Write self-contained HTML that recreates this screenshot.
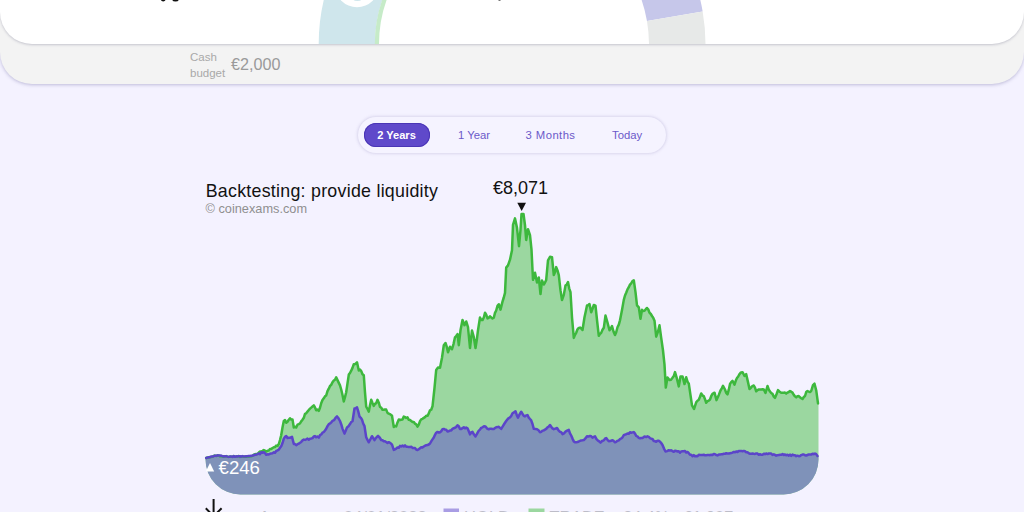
<!DOCTYPE html>
<html><head><meta charset="utf-8">
<style>
html,body{margin:0;padding:0;background:#f4f2ff;overflow:hidden;}
#root{position:relative;width:1024px;height:512px;overflow:hidden;background:#f4f2ff;}
body{width:1024px;height:512px;overflow:hidden;background:#f4f2ff;font-family:"Liberation Sans",sans-serif;position:relative;}
.gray{position:absolute;left:0;top:-40px;width:1024px;height:124.2px;background:#f3f3f3;border-radius:0 0 32px 32px;box-shadow:0 1px 3.5px rgba(95,90,150,.36);}
.white{position:absolute;left:0;top:-40px;width:1024px;height:83.9px;background:#fff;border-radius:0 0 32px 32px;box-shadow:0 1px 2.5px rgba(90,90,120,.30);overflow:hidden;}
.cash{position:absolute;left:190px;top:48.6px;font-size:11.5px;line-height:16.6px;color:#a9a9a9;}
.amt{position:absolute;left:231px;top:54px;font-size:16.2px;line-height:20px;color:#9a9a9a;}
.tabs{position:absolute;left:357.5px;top:116.5px;width:308.5px;height:36px;border-radius:18px;background:#f5f3ff;box-shadow:0 0 3.5px rgba(80,70,140,.28);}
.pill{position:absolute;left:364px;top:122.5px;width:66px;height:24px;border-radius:12px;background:#5f49ca;box-shadow:inset 0 0 0 1px #4a35b5;}
.t{position:absolute;top:127.6px;font-size:11.3px;line-height:14px;color:#6b59c9;white-space:nowrap;}
.title{position:absolute;left:205.7px;top:180.6px;letter-spacing:0.27px;font-size:17.8px;line-height:21px;color:#111;white-space:nowrap;}
.copy{position:absolute;left:205.5px;top:202px;font-size:12.75px;line-height:14px;color:#8f8f8f;white-space:nowrap;}
.peak{position:absolute;left:493px;top:178.2px;font-size:18px;line-height:21px;color:#111;white-space:nowrap;}
.low{position:absolute;left:218.6px;top:456.6px;font-size:18.6px;line-height:21px;color:#fff;white-space:nowrap;}
.lg{position:absolute;top:508px;font-size:16.6px;line-height:20px;color:#bdbdc8;white-space:nowrap;}
svg{position:absolute;left:0;top:0;}
</style></head><body>
<div id="root">
<div class="gray"></div>
<div class="white"></div>
<svg width="1024" height="512" viewBox="0 0 1024 512">
 <defs><clipPath id="cw"><rect x="0" y="0" width="1024" height="44"/></clipPath></defs>
 <g clip-path="url(#cw)">
  <path d="M344.60,-52.15 A193.3,193.3 0 0 0 318.73,47.87 L375.02,46.89 A137,137 0 0 1 393.35,-24.00 Z" fill="#cfe6ec"/>
  <path d="M393.18,-24.10 A137.2,137.2 0 0 0 374.82,46.89 L379.02,46.82 A133,133 0 0 1 396.82,-22.00 Z" fill="#c6ebc8"/>
  <path d="M702.65,11.40 A193.5,193.5 0 0 0 660.23,-79.88 L616.95,-43.56 A137,137 0 0 1 646.98,21.06 Z" fill="#c6c7ea"/>
  <path d="M705.47,47.88 A193.5,193.5 0 0 0 702.65,11.40 L646.98,21.06 A137,137 0 0 1 648.98,46.89 Z" fill="#e7e9e8"/>
  <circle cx="357" cy="-15" r="22.2" fill="#fff"/>
  <ellipse cx="357.4" cy="-0.6" rx="4" ry="1.6" fill="#cfe6ec"/>
  <ellipse cx="163.2" cy="-0.9" rx="2.4" ry="2.3" fill="#111"/>
  <rect x="498.5" y="-1" width="2" height="1.8" fill="#555"/>
  <ellipse cx="175.5" cy="-1.1" rx="3.4" ry="2.7" fill="#111"/>
 </g>
 <path d="M205.5,458.0 L206.2,458.0 L207.5,457.4 L208.8,457.5 L210.0,457.0 L211.2,457.0 L212.5,456.7 L213.8,455.9 L215.0,455.5 L216.2,456.1 L217.5,455.4 L218.8,455.4 L220.0,456.4 L221.2,456.0 L222.5,456.5 L223.8,456.3 L225.0,456.6 L226.2,456.1 L227.5,456.6 L228.8,456.9 L230.0,456.5 L231.2,456.8 L232.5,456.7 L233.8,456.0 L235.0,456.8 L236.2,456.6 L237.5,456.4 L238.8,456.0 L240.0,456.9 L241.2,456.4 L242.5,456.6 L243.8,456.8 L245.0,456.6 L246.2,456.8 L247.5,456.2 L248.8,456.6 L250.0,456.2 L251.2,456.3 L252.5,455.8 L253.8,454.6 L255.0,454.2 L256.2,453.9 L257.5,454.0 L258.8,452.5 L260.0,451.6 L261.2,451.6 L262.5,450.9 L263.8,450.1 L265.0,450.7 L266.2,451.6 L267.5,450.8 L268.8,450.6 L270.0,448.9 L271.2,449.1 L272.5,448.0 L273.8,447.3 L275.0,447.1 L276.2,445.6 L277.5,445.9 L278.8,444.1 L280.0,440.0 L281.2,435.3 L282.5,427.5 L283.8,421.0 L285.0,420.1 L286.2,422.8 L287.5,421.7 L288.8,419.7 L290.0,418.3 L291.2,419.5 L292.5,419.4 L293.8,427.5 L295.0,426.8 L296.2,427.5 L297.5,424.7 L298.8,424.2 L300.0,423.3 L301.2,421.4 L302.5,419.8 L303.8,417.8 L305.0,413.8 L306.2,413.3 L307.5,411.6 L308.8,410.0 L310.0,408.6 L311.2,407.6 L312.5,406.5 L313.8,405.4 L315.0,407.4 L316.2,410.3 L317.5,409.6 L318.8,410.8 L320.0,407.8 L321.2,403.3 L322.5,400.0 L323.8,398.3 L325.0,396.3 L326.2,395.5 L327.5,391.2 L328.8,388.7 L330.0,386.0 L331.2,384.9 L332.5,382.3 L333.8,380.5 L335.0,379.7 L336.2,377.3 L337.5,380.1 L338.8,382.9 L340.0,385.4 L341.2,389.5 L342.5,395.0 L343.8,401.5 L345.0,397.1 L346.2,392.2 L347.5,383.4 L348.8,374.6 L350.0,373.0 L351.2,370.7 L352.5,367.9 L353.8,364.2 L355.4,363.9 L357.0,362.3 L358.8,370.5 L360.0,369.6 L361.2,371.0 L362.5,374.2 L363.8,375.3 L365.0,392.4 L366.2,406.7 L367.5,409.0 L368.8,411.6 L370.0,405.2 L371.2,399.7 L372.5,403.0 L373.8,405.9 L375.0,403.9 L376.2,403.1 L377.5,399.8 L378.8,402.7 L380.0,407.0 L381.2,407.6 L382.5,409.8 L383.8,409.8 L385.0,409.5 L386.2,409.6 L387.5,412.9 L388.8,413.7 L390.4,414.4 L392.0,415.8 L393.8,427.0 L395.0,426.1 L396.2,426.4 L397.5,422.4 L398.8,419.5 L400.0,420.0 L401.2,419.7 L402.5,419.6 L403.8,416.6 L405.0,417.2 L406.2,417.9 L407.5,417.4 L408.8,419.8 L410.0,420.0 L411.2,421.0 L412.5,421.9 L413.8,421.9 L415.0,423.7 L416.2,424.4 L417.5,426.7 L418.8,424.5 L420.0,421.2 L421.2,419.3 L422.5,418.8 L423.8,417.9 L425.0,417.2 L426.2,415.7 L427.5,415.8 L428.8,413.4 L430.0,410.3 L431.2,409.7 L432.5,406.3 L434.5,388.0 L436.2,369.9 L438.0,367.4 L440.0,367.7 L442.0,357.8 L443.8,345.3 L445.5,343.0 L446.8,346.9 L448.0,352.2 L450.0,346.7 L452.0,349.2 L453.5,344.1 L455.0,337.3 L456.2,336.0 L457.5,334.1 L458.8,345.2 L460.5,330.3 L462.5,320.0 L464.5,325.2 L466.2,321.5 L468.0,327.2 L470.0,348.0 L472.0,330.5 L473.8,337.0 L475.5,348.0 L476.8,339.8 L478.0,330.2 L480.0,317.5 L481.2,320.1 L482.5,320.1 L483.8,317.5 L485.0,312.7 L486.2,314.7 L487.5,318.4 L488.8,317.8 L490.0,316.3 L491.2,317.4 L492.5,318.4 L493.8,317.7 L495.0,312.9 L496.2,310.5 L497.5,305.8 L498.8,304.2 L500.5,309.6 L502.5,301.6 L503.8,297.5 L505.0,292.9 L506.2,267.6 L508.0,265.4 L510.0,259.7 L512.0,250.2 L513.0,224.8 L515.0,218.4 L517.0,227.8 L519.0,246.2 L520.5,230.0 L521.5,214.0 L523.5,214.0 L525.0,225.1 L526.2,240.0 L528.0,229.2 L530.0,235.1 L531.5,249.6 L533.0,279.8 L535.0,272.8 L537.0,282.5 L538.8,277.5 L540.5,294.1 L542.0,280.4 L543.8,284.5 L545.0,282.6 L546.2,279.9 L548.0,260.3 L550.0,256.8 L552.0,257.2 L553.8,275.0 L555.0,272.3 L556.2,267.1 L557.5,270.4 L558.8,275.1 L560.5,290.4 L562.0,300.0 L563.8,294.9 L565.5,285.4 L566.8,284.4 L568.0,282.0 L569.2,288.3 L570.5,292.2 L572.0,317.3 L573.8,337.9 L575.0,334.8 L576.2,332.8 L577.5,329.3 L578.8,327.9 L580.0,327.6 L581.2,328.4 L582.5,330.0 L584.5,317.3 L585.8,311.3 L587.0,305.4 L588.2,305.2 L589.5,304.0 L591.2,312.3 L592.5,308.8 L593.8,305.0 L595.5,305.7 L597.0,320.0 L598.8,335.8 L600.0,333.8 L601.2,332.9 L602.5,329.7 L603.8,327.8 L605.5,315.5 L607.5,322.6 L609.5,330.2 L610.8,328.4 L612.0,326.0 L613.5,331.5 L615.0,335.0 L616.2,332.2 L617.5,327.3 L618.8,324.6 L620.0,320.3 L622.0,310.1 L623.8,299.9 L625.0,295.5 L626.2,292.8 L627.5,289.4 L628.8,287.2 L630.0,284.6 L631.2,283.3 L632.5,281.1 L633.8,280.3 L635.5,292.1 L637.0,305.4 L638.8,307.4 L640.5,318.8 L642.0,309.8 L643.2,310.9 L644.5,310.8 L645.8,309.2 L647.0,308.0 L648.2,309.3 L649.5,312.7 L650.8,314.0 L652.0,316.0 L653.2,317.7 L654.5,320.7 L656.2,336.7 L658.0,331.6 L659.5,325.3 L661.2,337.8 L663.0,350.5 L664.5,364.6 L665.8,387.6 L667.5,377.5 L669.5,380.1 L671.0,379.7 L672.5,377.8 L673.8,376.0 L675.0,372.1 L677.0,378.9 L678.8,386.4 L680.5,376.5 L682.5,376.4 L684.5,384.1 L686.2,377.3 L687.5,381.6 L688.8,383.6 L690.5,395.1 L692.0,405.4 L694.0,409.0 L696.2,402.3 L697.5,400.7 L698.8,399.8 L700.0,396.8 L701.2,393.5 L702.5,395.5 L703.8,396.1 L705.0,399.2 L706.2,402.8 L707.5,401.2 L708.8,400.6 L710.0,399.5 L711.2,396.2 L712.5,393.8 L714.5,392.7 L716.5,400.1 L718.8,394.9 L720.5,390.5 L721.8,388.4 L723.0,385.9 L725.0,389.5 L726.2,392.9 L727.5,394.3 L728.8,389.7 L730.0,383.9 L731.2,382.1 L732.5,380.8 L734.5,384.7 L735.8,380.6 L737.0,378.0 L738.2,376.5 L739.5,374.1 L741.0,372.4 L742.5,372.2 L744.5,376.0 L746.2,374.2 L748.0,382.1 L749.5,389.1 L750.8,387.9 L752.0,386.3 L753.8,385.5 L755.0,387.6 L756.2,391.3 L757.5,390.1 L758.8,389.5 L760.0,389.5 L761.2,389.6 L762.5,389.2 L763.8,389.5 L765.5,393.0 L767.5,386.0 L768.8,389.6 L770.0,391.5 L771.2,393.0 L772.5,393.9 L773.8,396.6 L775.0,397.9 L776.5,394.2 L778.0,390.1 L779.6,391.7 L781.2,392.7 L782.5,392.8 L783.8,392.8 L785.0,392.6 L786.2,393.6 L787.5,392.6 L788.8,392.0 L790.0,391.1 L791.2,391.7 L792.5,392.6 L793.8,394.9 L795.0,396.4 L796.2,397.4 L797.5,396.2 L798.8,396.1 L800.0,397.3 L801.2,398.2 L802.5,399.0 L803.8,397.0 L805.0,396.0 L806.2,392.1 L807.5,391.1 L808.8,391.6 L810.0,392.0 L811.2,391.0 L813.0,385.1 L814.5,383.7 L816.2,390.2 L818.0,403.4 L818.5,403.4 L818.5,459.5 A35,35 0 0 1 783.5,494.5 L240.5,494.5 A35,35 0 0 1 205.5,459.5 Z" fill="#9bd7a0"/>
 <path d="M205.5,458.0 L206.2,458.0 L207.5,457.6 L208.8,457.2 L210.0,457.3 L211.2,456.5 L212.5,456.6 L213.8,456.2 L215.0,455.7 L216.2,455.8 L217.5,455.3 L218.8,455.6 L220.0,455.5 L221.2,455.7 L222.5,456.1 L223.8,456.6 L225.0,456.3 L226.2,456.3 L227.5,456.6 L228.8,456.9 L230.0,456.6 L231.2,456.4 L232.5,456.9 L233.8,456.1 L235.0,456.8 L236.2,456.3 L237.5,456.4 L238.8,456.2 L240.0,456.3 L241.2,456.7 L242.5,456.1 L243.8,456.4 L245.0,456.5 L246.2,456.2 L247.5,456.3 L248.8,455.9 L250.0,456.1 L251.2,455.7 L252.5,455.7 L253.8,455.2 L255.0,454.8 L256.2,454.7 L257.5,454.2 L258.8,453.4 L260.0,454.1 L261.2,452.3 L262.5,452.7 L263.8,452.3 L265.0,453.1 L266.2,454.8 L267.5,454.3 L268.8,454.4 L270.0,453.8 L271.2,453.4 L272.5,453.2 L273.8,452.3 L275.0,452.8 L276.2,451.0 L277.5,450.4 L278.8,449.6 L280.0,447.8 L281.2,446.2 L282.5,443.1 L283.8,438.7 L285.0,436.9 L286.2,436.1 L287.5,437.9 L288.8,437.7 L290.4,437.7 L292.0,436.9 L293.8,443.9 L295.0,444.1 L296.2,445.2 L297.5,444.2 L298.8,443.6 L300.0,442.8 L301.2,441.9 L302.5,440.4 L303.8,439.6 L305.0,439.9 L306.2,439.3 L307.5,438.6 L308.8,439.7 L310.0,438.8 L311.2,438.5 L312.5,438.1 L313.8,436.5 L315.0,436.1 L316.2,437.3 L317.5,436.5 L318.8,437.7 L320.0,435.2 L321.2,434.5 L322.5,432.7 L323.8,432.0 L325.0,430.5 L326.2,428.8 L327.5,426.1 L328.8,424.2 L330.0,423.5 L331.2,422.3 L332.5,420.9 L334.0,420.2 L335.5,417.9 L337.0,416.4 L338.5,418.3 L340.0,421.0 L341.2,424.2 L342.5,428.6 L344.5,433.6 L345.8,430.5 L347.0,427.4 L348.5,426.2 L350.0,424.1 L351.2,422.0 L352.5,421.2 L354.5,408.5 L355.8,408.1 L357.0,407.4 L358.2,411.1 L359.5,416.5 L360.8,417.8 L362.0,419.6 L363.2,423.5 L364.5,426.1 L366.2,437.2 L367.5,439.9 L368.8,442.3 L370.4,439.2 L372.0,436.2 L373.2,438.0 L374.5,440.1 L375.7,438.4 L376.8,436.9 L378.0,435.9 L379.6,437.5 L381.2,440.0 L382.5,440.2 L383.8,441.3 L385.0,441.3 L386.2,442.0 L387.5,442.9 L388.8,442.2 L390.4,443.0 L392.0,444.7 L393.8,449.9 L395.0,449.3 L396.2,448.7 L397.5,447.4 L398.8,447.8 L400.0,445.9 L401.2,446.5 L402.5,445.6 L403.8,446.5 L405.0,445.4 L406.2,446.8 L407.5,446.8 L408.8,447.1 L410.0,447.1 L411.2,446.7 L412.5,447.9 L413.8,448.0 L415.0,448.1 L416.2,449.5 L417.5,450.0 L418.8,449.2 L420.0,448.2 L421.2,447.3 L422.5,447.4 L423.8,446.5 L425.0,445.7 L426.2,445.3 L427.5,445.1 L428.8,444.5 L430.0,443.5 L431.2,441.4 L432.5,439.4 L433.8,437.5 L435.0,434.8 L436.2,432.7 L437.5,431.9 L438.8,432.6 L440.0,432.2 L441.2,431.2 L442.5,429.2 L443.8,428.9 L445.0,429.6 L446.2,429.7 L447.5,431.4 L448.8,431.2 L450.0,430.5 L451.2,430.4 L452.5,428.9 L453.8,428.2 L455.0,427.8 L456.2,426.9 L457.5,425.4 L458.8,426.3 L460.0,429.1 L461.2,429.0 L462.5,428.1 L463.8,427.3 L465.0,428.3 L466.2,427.6 L467.5,428.3 L468.8,431.3 L470.0,434.4 L471.2,432.5 L472.5,431.9 L474.0,434.6 L475.5,436.5 L477.1,433.6 L478.8,430.6 L480.0,429.6 L481.2,427.8 L482.5,427.3 L484.0,426.3 L485.5,426.4 L487.1,428.5 L488.8,429.3 L490.0,428.7 L491.2,428.7 L492.5,429.1 L493.8,428.9 L495.0,428.0 L496.2,427.3 L497.5,427.1 L498.8,426.8 L500.0,427.9 L501.2,428.9 L502.9,426.1 L504.5,423.5 L506.0,421.3 L507.5,419.3 L508.8,418.0 L510.0,417.4 L511.2,416.0 L512.5,413.3 L514.0,412.4 L515.5,411.2 L516.8,415.2 L518.0,417.6 L519.6,414.3 L521.2,411.7 L522.5,413.8 L523.8,415.8 L525.0,416.4 L526.2,415.4 L527.5,415.1 L528.8,417.7 L530.0,419.0 L531.2,420.4 L532.5,424.0 L533.8,428.8 L535.4,428.9 L537.0,429.3 L538.5,430.3 L540.0,432.2 L541.2,431.9 L542.5,430.7 L543.8,430.4 L545.0,429.6 L546.2,428.9 L547.5,427.3 L548.8,426.6 L550.0,425.0 L551.2,426.8 L552.5,428.4 L553.8,429.2 L555.4,428.6 L557.0,428.0 L558.5,430.3 L560.0,431.8 L561.2,432.1 L562.5,434.1 L564.0,433.3 L565.5,431.6 L567.1,430.6 L568.8,429.9 L570.0,433.4 L571.2,435.5 L572.5,438.6 L573.8,441.4 L575.0,442.3 L576.2,442.3 L577.5,442.0 L578.8,441.5 L580.0,440.9 L581.2,440.4 L582.5,440.3 L583.8,440.1 L585.4,438.4 L587.0,436.2 L588.5,436.6 L590.0,435.9 L591.2,436.3 L592.5,437.6 L593.8,436.9 L595.0,436.4 L596.5,439.2 L598.0,440.7 L599.2,441.4 L600.5,442.6 L602.1,441.0 L603.8,440.4 L605.0,438.7 L606.2,438.1 L607.5,439.8 L608.8,441.2 L610.4,441.1 L612.0,440.3 L613.5,440.8 L615.0,442.3 L616.2,441.8 L617.5,440.8 L618.8,440.3 L620.0,439.1 L621.2,438.5 L622.5,437.3 L623.8,435.2 L625.0,434.6 L626.2,434.2 L627.5,433.5 L628.8,433.8 L630.0,432.2 L631.2,432.8 L632.5,432.4 L633.8,432.1 L635.0,433.6 L636.2,435.8 L637.5,436.5 L638.8,437.8 L640.0,438.3 L641.2,438.0 L642.5,438.1 L643.8,437.0 L645.0,436.5 L646.2,437.1 L647.5,436.3 L648.8,436.8 L650.0,438.2 L651.2,438.7 L652.5,439.0 L653.8,441.0 L655.0,441.2 L656.2,441.8 L657.5,440.8 L658.8,440.8 L660.0,441.7 L661.2,443.0 L662.5,445.0 L664.0,448.6 L665.5,451.5 L667.1,451.1 L668.8,450.2 L670.0,450.6 L671.2,450.3 L672.5,451.1 L673.8,451.8 L675.0,450.7 L676.2,450.9 L677.5,451.5 L678.8,451.3 L680.0,452.7 L681.2,451.4 L682.5,451.2 L683.8,451.3 L685.0,450.9 L686.2,452.5 L687.5,451.9 L688.8,453.2 L690.0,454.7 L691.2,454.7 L692.5,456.2 L693.8,455.1 L695.0,456.3 L696.2,456.1 L697.5,456.2 L698.8,454.7 L700.0,454.9 L701.2,455.0 L702.5,455.0 L703.8,454.7 L705.0,455.3 L706.2,455.2 L707.5,455.0 L708.8,454.9 L710.0,455.2 L711.2,454.7 L712.5,455.0 L713.8,453.9 L715.0,454.2 L716.2,455.0 L717.5,455.4 L718.8,454.6 L720.0,454.6 L721.2,454.3 L722.5,454.2 L723.8,453.8 L725.0,453.8 L726.2,453.2 L727.5,453.6 L728.8,453.6 L730.0,453.2 L731.2,453.1 L732.5,452.6 L733.8,451.9 L735.0,452.3 L736.2,451.4 L737.5,452.0 L738.8,451.0 L740.0,450.9 L741.2,450.9 L742.5,451.2 L743.8,450.9 L745.0,451.3 L746.2,452.3 L747.5,452.3 L748.8,453.3 L750.0,453.7 L751.2,453.7 L752.5,453.6 L753.8,453.8 L755.0,453.9 L756.2,453.4 L757.5,453.6 L758.8,454.8 L760.0,454.2 L761.2,454.8 L762.5,454.7 L763.8,453.7 L765.0,454.2 L766.2,453.5 L767.5,454.1 L768.8,453.5 L770.0,453.6 L771.2,453.6 L772.5,454.9 L773.8,454.3 L775.0,454.9 L776.2,455.7 L777.5,455.2 L778.8,455.1 L780.0,454.8 L781.2,454.8 L782.5,454.1 L783.8,455.1 L785.0,454.4 L786.2,455.3 L787.5,454.7 L788.8,455.6 L790.0,454.6 L791.2,455.9 L792.5,454.5 L793.8,455.3 L795.0,455.3 L796.2,456.2 L797.5,455.7 L798.8,456.2 L800.0,456.0 L801.2,455.1 L802.5,454.6 L803.8,454.5 L805.0,455.2 L806.2,455.6 L807.5,455.0 L808.8,454.4 L810.0,454.6 L811.2,454.6 L812.5,453.7 L813.8,454.2 L815.0,453.5 L816.2,454.2 L817.5,455.9 L818.5,455.9 L818.5,459.5 A35,35 0 0 1 783.5,494.5 L240.5,494.5 A35,35 0 0 1 205.5,459.5 Z" fill="#7f92b9"/>
 <path d="M206.2,458.0 L207.5,457.4 L208.8,457.5 L210.0,457.0 L211.2,457.0 L212.5,456.7 L213.8,455.9 L215.0,455.5 L216.2,456.1 L217.5,455.4 L218.8,455.4 L220.0,456.4 L221.2,456.0 L222.5,456.5 L223.8,456.3 L225.0,456.6 L226.2,456.1 L227.5,456.6 L228.8,456.9 L230.0,456.5 L231.2,456.8 L232.5,456.7 L233.8,456.0 L235.0,456.8 L236.2,456.6 L237.5,456.4 L238.8,456.0 L240.0,456.9 L241.2,456.4 L242.5,456.6 L243.8,456.8 L245.0,456.6 L246.2,456.8 L247.5,456.2 L248.8,456.6 L250.0,456.2 L251.2,456.3 L252.5,455.8 L253.8,454.6 L255.0,454.2 L256.2,453.9 L257.5,454.0 L258.8,452.5 L260.0,451.6 L261.2,451.6 L262.5,450.9 L263.8,450.1 L265.0,450.7 L266.2,451.6 L267.5,450.8 L268.8,450.6 L270.0,448.9 L271.2,449.1 L272.5,448.0 L273.8,447.3 L275.0,447.1 L276.2,445.6 L277.5,445.9 L278.8,444.1 L280.0,440.0 L281.2,435.3 L282.5,427.5 L283.8,421.0 L285.0,420.1 L286.2,422.8 L287.5,421.7 L288.8,419.7 L290.0,418.3 L291.2,419.5 L292.5,419.4 L293.8,427.5 L295.0,426.8 L296.2,427.5 L297.5,424.7 L298.8,424.2 L300.0,423.3 L301.2,421.4 L302.5,419.8 L303.8,417.8 L305.0,413.8 L306.2,413.3 L307.5,411.6 L308.8,410.0 L310.0,408.6 L311.2,407.6 L312.5,406.5 L313.8,405.4 L315.0,407.4 L316.2,410.3 L317.5,409.6 L318.8,410.8 L320.0,407.8 L321.2,403.3 L322.5,400.0 L323.8,398.3 L325.0,396.3 L326.2,395.5 L327.5,391.2 L328.8,388.7 L330.0,386.0 L331.2,384.9 L332.5,382.3 L333.8,380.5 L335.0,379.7 L336.2,377.3 L337.5,380.1 L338.8,382.9 L340.0,385.4 L341.2,389.5 L342.5,395.0 L343.8,401.5 L345.0,397.1 L346.2,392.2 L347.5,383.4 L348.8,374.6 L350.0,373.0 L351.2,370.7 L352.5,367.9 L353.8,364.2 L355.4,363.9 L357.0,362.3 L358.8,370.5 L360.0,369.6 L361.2,371.0 L362.5,374.2 L363.8,375.3 L365.0,392.4 L366.2,406.7 L367.5,409.0 L368.8,411.6 L370.0,405.2 L371.2,399.7 L372.5,403.0 L373.8,405.9 L375.0,403.9 L376.2,403.1 L377.5,399.8 L378.8,402.7 L380.0,407.0 L381.2,407.6 L382.5,409.8 L383.8,409.8 L385.0,409.5 L386.2,409.6 L387.5,412.9 L388.8,413.7 L390.4,414.4 L392.0,415.8 L393.8,427.0 L395.0,426.1 L396.2,426.4 L397.5,422.4 L398.8,419.5 L400.0,420.0 L401.2,419.7 L402.5,419.6 L403.8,416.6 L405.0,417.2 L406.2,417.9 L407.5,417.4 L408.8,419.8 L410.0,420.0 L411.2,421.0 L412.5,421.9 L413.8,421.9 L415.0,423.7 L416.2,424.4 L417.5,426.7 L418.8,424.5 L420.0,421.2 L421.2,419.3 L422.5,418.8 L423.8,417.9 L425.0,417.2 L426.2,415.7 L427.5,415.8 L428.8,413.4 L430.0,410.3 L431.2,409.7 L432.5,406.3 L434.5,388.0 L436.2,369.9 L438.0,367.4 L440.0,367.7 L442.0,357.8 L443.8,345.3 L445.5,343.0 L446.8,346.9 L448.0,352.2 L450.0,346.7 L452.0,349.2 L453.5,344.1 L455.0,337.3 L456.2,336.0 L457.5,334.1 L458.8,345.2 L460.5,330.3 L462.5,320.0 L464.5,325.2 L466.2,321.5 L468.0,327.2 L470.0,348.0 L472.0,330.5 L473.8,337.0 L475.5,348.0 L476.8,339.8 L478.0,330.2 L480.0,317.5 L481.2,320.1 L482.5,320.1 L483.8,317.5 L485.0,312.7 L486.2,314.7 L487.5,318.4 L488.8,317.8 L490.0,316.3 L491.2,317.4 L492.5,318.4 L493.8,317.7 L495.0,312.9 L496.2,310.5 L497.5,305.8 L498.8,304.2 L500.5,309.6 L502.5,301.6 L503.8,297.5 L505.0,292.9 L506.2,267.6 L508.0,265.4 L510.0,259.7 L512.0,250.2 L513.0,224.8 L515.0,218.4 L517.0,227.8 L519.0,246.2 L520.5,230.0 L521.5,214.0 L523.5,214.0 L525.0,225.1 L526.2,240.0 L528.0,229.2 L530.0,235.1 L531.5,249.6 L533.0,279.8 L535.0,272.8 L537.0,282.5 L538.8,277.5 L540.5,294.1 L542.0,280.4 L543.8,284.5 L545.0,282.6 L546.2,279.9 L548.0,260.3 L550.0,256.8 L552.0,257.2 L553.8,275.0 L555.0,272.3 L556.2,267.1 L557.5,270.4 L558.8,275.1 L560.5,290.4 L562.0,300.0 L563.8,294.9 L565.5,285.4 L566.8,284.4 L568.0,282.0 L569.2,288.3 L570.5,292.2 L572.0,317.3 L573.8,337.9 L575.0,334.8 L576.2,332.8 L577.5,329.3 L578.8,327.9 L580.0,327.6 L581.2,328.4 L582.5,330.0 L584.5,317.3 L585.8,311.3 L587.0,305.4 L588.2,305.2 L589.5,304.0 L591.2,312.3 L592.5,308.8 L593.8,305.0 L595.5,305.7 L597.0,320.0 L598.8,335.8 L600.0,333.8 L601.2,332.9 L602.5,329.7 L603.8,327.8 L605.5,315.5 L607.5,322.6 L609.5,330.2 L610.8,328.4 L612.0,326.0 L613.5,331.5 L615.0,335.0 L616.2,332.2 L617.5,327.3 L618.8,324.6 L620.0,320.3 L622.0,310.1 L623.8,299.9 L625.0,295.5 L626.2,292.8 L627.5,289.4 L628.8,287.2 L630.0,284.6 L631.2,283.3 L632.5,281.1 L633.8,280.3 L635.5,292.1 L637.0,305.4 L638.8,307.4 L640.5,318.8 L642.0,309.8 L643.2,310.9 L644.5,310.8 L645.8,309.2 L647.0,308.0 L648.2,309.3 L649.5,312.7 L650.8,314.0 L652.0,316.0 L653.2,317.7 L654.5,320.7 L656.2,336.7 L658.0,331.6 L659.5,325.3 L661.2,337.8 L663.0,350.5 L664.5,364.6 L665.8,387.6 L667.5,377.5 L669.5,380.1 L671.0,379.7 L672.5,377.8 L673.8,376.0 L675.0,372.1 L677.0,378.9 L678.8,386.4 L680.5,376.5 L682.5,376.4 L684.5,384.1 L686.2,377.3 L687.5,381.6 L688.8,383.6 L690.5,395.1 L692.0,405.4 L694.0,409.0 L696.2,402.3 L697.5,400.7 L698.8,399.8 L700.0,396.8 L701.2,393.5 L702.5,395.5 L703.8,396.1 L705.0,399.2 L706.2,402.8 L707.5,401.2 L708.8,400.6 L710.0,399.5 L711.2,396.2 L712.5,393.8 L714.5,392.7 L716.5,400.1 L718.8,394.9 L720.5,390.5 L721.8,388.4 L723.0,385.9 L725.0,389.5 L726.2,392.9 L727.5,394.3 L728.8,389.7 L730.0,383.9 L731.2,382.1 L732.5,380.8 L734.5,384.7 L735.8,380.6 L737.0,378.0 L738.2,376.5 L739.5,374.1 L741.0,372.4 L742.5,372.2 L744.5,376.0 L746.2,374.2 L748.0,382.1 L749.5,389.1 L750.8,387.9 L752.0,386.3 L753.8,385.5 L755.0,387.6 L756.2,391.3 L757.5,390.1 L758.8,389.5 L760.0,389.5 L761.2,389.6 L762.5,389.2 L763.8,389.5 L765.5,393.0 L767.5,386.0 L768.8,389.6 L770.0,391.5 L771.2,393.0 L772.5,393.9 L773.8,396.6 L775.0,397.9 L776.5,394.2 L778.0,390.1 L779.6,391.7 L781.2,392.7 L782.5,392.8 L783.8,392.8 L785.0,392.6 L786.2,393.6 L787.5,392.6 L788.8,392.0 L790.0,391.1 L791.2,391.7 L792.5,392.6 L793.8,394.9 L795.0,396.4 L796.2,397.4 L797.5,396.2 L798.8,396.1 L800.0,397.3 L801.2,398.2 L802.5,399.0 L803.8,397.0 L805.0,396.0 L806.2,392.1 L807.5,391.1 L808.8,391.6 L810.0,392.0 L811.2,391.0 L813.0,385.1 L814.5,383.7 L816.2,390.2 L818.0,403.4" fill="none" stroke="#3db83d" stroke-width="2.5" stroke-linejoin="round" stroke-linecap="round"/>
 <path d="M206.2,458.0 L207.5,457.6 L208.8,457.2 L210.0,457.3 L211.2,456.5 L212.5,456.6 L213.8,456.2 L215.0,455.7 L216.2,455.8 L217.5,455.3 L218.8,455.6 L220.0,455.5 L221.2,455.7 L222.5,456.1 L223.8,456.6 L225.0,456.3 L226.2,456.3 L227.5,456.6 L228.8,456.9 L230.0,456.6 L231.2,456.4 L232.5,456.9 L233.8,456.1 L235.0,456.8 L236.2,456.3 L237.5,456.4 L238.8,456.2 L240.0,456.3 L241.2,456.7 L242.5,456.1 L243.8,456.4 L245.0,456.5 L246.2,456.2 L247.5,456.3 L248.8,455.9 L250.0,456.1 L251.2,455.7 L252.5,455.7 L253.8,455.2 L255.0,454.8 L256.2,454.7 L257.5,454.2 L258.8,453.4 L260.0,454.1 L261.2,452.3 L262.5,452.7 L263.8,452.3 L265.0,453.1 L266.2,454.8 L267.5,454.3 L268.8,454.4 L270.0,453.8 L271.2,453.4 L272.5,453.2 L273.8,452.3 L275.0,452.8 L276.2,451.0 L277.5,450.4 L278.8,449.6 L280.0,447.8 L281.2,446.2 L282.5,443.1 L283.8,438.7 L285.0,436.9 L286.2,436.1 L287.5,437.9 L288.8,437.7 L290.4,437.7 L292.0,436.9 L293.8,443.9 L295.0,444.1 L296.2,445.2 L297.5,444.2 L298.8,443.6 L300.0,442.8 L301.2,441.9 L302.5,440.4 L303.8,439.6 L305.0,439.9 L306.2,439.3 L307.5,438.6 L308.8,439.7 L310.0,438.8 L311.2,438.5 L312.5,438.1 L313.8,436.5 L315.0,436.1 L316.2,437.3 L317.5,436.5 L318.8,437.7 L320.0,435.2 L321.2,434.5 L322.5,432.7 L323.8,432.0 L325.0,430.5 L326.2,428.8 L327.5,426.1 L328.8,424.2 L330.0,423.5 L331.2,422.3 L332.5,420.9 L334.0,420.2 L335.5,417.9 L337.0,416.4 L338.5,418.3 L340.0,421.0 L341.2,424.2 L342.5,428.6 L344.5,433.6 L345.8,430.5 L347.0,427.4 L348.5,426.2 L350.0,424.1 L351.2,422.0 L352.5,421.2 L354.5,408.5 L355.8,408.1 L357.0,407.4 L358.2,411.1 L359.5,416.5 L360.8,417.8 L362.0,419.6 L363.2,423.5 L364.5,426.1 L366.2,437.2 L367.5,439.9 L368.8,442.3 L370.4,439.2 L372.0,436.2 L373.2,438.0 L374.5,440.1 L375.7,438.4 L376.8,436.9 L378.0,435.9 L379.6,437.5 L381.2,440.0 L382.5,440.2 L383.8,441.3 L385.0,441.3 L386.2,442.0 L387.5,442.9 L388.8,442.2 L390.4,443.0 L392.0,444.7 L393.8,449.9 L395.0,449.3 L396.2,448.7 L397.5,447.4 L398.8,447.8 L400.0,445.9 L401.2,446.5 L402.5,445.6 L403.8,446.5 L405.0,445.4 L406.2,446.8 L407.5,446.8 L408.8,447.1 L410.0,447.1 L411.2,446.7 L412.5,447.9 L413.8,448.0 L415.0,448.1 L416.2,449.5 L417.5,450.0 L418.8,449.2 L420.0,448.2 L421.2,447.3 L422.5,447.4 L423.8,446.5 L425.0,445.7 L426.2,445.3 L427.5,445.1 L428.8,444.5 L430.0,443.5 L431.2,441.4 L432.5,439.4 L433.8,437.5 L435.0,434.8 L436.2,432.7 L437.5,431.9 L438.8,432.6 L440.0,432.2 L441.2,431.2 L442.5,429.2 L443.8,428.9 L445.0,429.6 L446.2,429.7 L447.5,431.4 L448.8,431.2 L450.0,430.5 L451.2,430.4 L452.5,428.9 L453.8,428.2 L455.0,427.8 L456.2,426.9 L457.5,425.4 L458.8,426.3 L460.0,429.1 L461.2,429.0 L462.5,428.1 L463.8,427.3 L465.0,428.3 L466.2,427.6 L467.5,428.3 L468.8,431.3 L470.0,434.4 L471.2,432.5 L472.5,431.9 L474.0,434.6 L475.5,436.5 L477.1,433.6 L478.8,430.6 L480.0,429.6 L481.2,427.8 L482.5,427.3 L484.0,426.3 L485.5,426.4 L487.1,428.5 L488.8,429.3 L490.0,428.7 L491.2,428.7 L492.5,429.1 L493.8,428.9 L495.0,428.0 L496.2,427.3 L497.5,427.1 L498.8,426.8 L500.0,427.9 L501.2,428.9 L502.9,426.1 L504.5,423.5 L506.0,421.3 L507.5,419.3 L508.8,418.0 L510.0,417.4 L511.2,416.0 L512.5,413.3 L514.0,412.4 L515.5,411.2 L516.8,415.2 L518.0,417.6 L519.6,414.3 L521.2,411.7 L522.5,413.8 L523.8,415.8 L525.0,416.4 L526.2,415.4 L527.5,415.1 L528.8,417.7 L530.0,419.0 L531.2,420.4 L532.5,424.0 L533.8,428.8 L535.4,428.9 L537.0,429.3 L538.5,430.3 L540.0,432.2 L541.2,431.9 L542.5,430.7 L543.8,430.4 L545.0,429.6 L546.2,428.9 L547.5,427.3 L548.8,426.6 L550.0,425.0 L551.2,426.8 L552.5,428.4 L553.8,429.2 L555.4,428.6 L557.0,428.0 L558.5,430.3 L560.0,431.8 L561.2,432.1 L562.5,434.1 L564.0,433.3 L565.5,431.6 L567.1,430.6 L568.8,429.9 L570.0,433.4 L571.2,435.5 L572.5,438.6 L573.8,441.4 L575.0,442.3 L576.2,442.3 L577.5,442.0 L578.8,441.5 L580.0,440.9 L581.2,440.4 L582.5,440.3 L583.8,440.1 L585.4,438.4 L587.0,436.2 L588.5,436.6 L590.0,435.9 L591.2,436.3 L592.5,437.6 L593.8,436.9 L595.0,436.4 L596.5,439.2 L598.0,440.7 L599.2,441.4 L600.5,442.6 L602.1,441.0 L603.8,440.4 L605.0,438.7 L606.2,438.1 L607.5,439.8 L608.8,441.2 L610.4,441.1 L612.0,440.3 L613.5,440.8 L615.0,442.3 L616.2,441.8 L617.5,440.8 L618.8,440.3 L620.0,439.1 L621.2,438.5 L622.5,437.3 L623.8,435.2 L625.0,434.6 L626.2,434.2 L627.5,433.5 L628.8,433.8 L630.0,432.2 L631.2,432.8 L632.5,432.4 L633.8,432.1 L635.0,433.6 L636.2,435.8 L637.5,436.5 L638.8,437.8 L640.0,438.3 L641.2,438.0 L642.5,438.1 L643.8,437.0 L645.0,436.5 L646.2,437.1 L647.5,436.3 L648.8,436.8 L650.0,438.2 L651.2,438.7 L652.5,439.0 L653.8,441.0 L655.0,441.2 L656.2,441.8 L657.5,440.8 L658.8,440.8 L660.0,441.7 L661.2,443.0 L662.5,445.0 L664.0,448.6 L665.5,451.5 L667.1,451.1 L668.8,450.2 L670.0,450.6 L671.2,450.3 L672.5,451.1 L673.8,451.8 L675.0,450.7 L676.2,450.9 L677.5,451.5 L678.8,451.3 L680.0,452.7 L681.2,451.4 L682.5,451.2 L683.8,451.3 L685.0,450.9 L686.2,452.5 L687.5,451.9 L688.8,453.2 L690.0,454.7 L691.2,454.7 L692.5,456.2 L693.8,455.1 L695.0,456.3 L696.2,456.1 L697.5,456.2 L698.8,454.7 L700.0,454.9 L701.2,455.0 L702.5,455.0 L703.8,454.7 L705.0,455.3 L706.2,455.2 L707.5,455.0 L708.8,454.9 L710.0,455.2 L711.2,454.7 L712.5,455.0 L713.8,453.9 L715.0,454.2 L716.2,455.0 L717.5,455.4 L718.8,454.6 L720.0,454.6 L721.2,454.3 L722.5,454.2 L723.8,453.8 L725.0,453.8 L726.2,453.2 L727.5,453.6 L728.8,453.6 L730.0,453.2 L731.2,453.1 L732.5,452.6 L733.8,451.9 L735.0,452.3 L736.2,451.4 L737.5,452.0 L738.8,451.0 L740.0,450.9 L741.2,450.9 L742.5,451.2 L743.8,450.9 L745.0,451.3 L746.2,452.3 L747.5,452.3 L748.8,453.3 L750.0,453.7 L751.2,453.7 L752.5,453.6 L753.8,453.8 L755.0,453.9 L756.2,453.4 L757.5,453.6 L758.8,454.8 L760.0,454.2 L761.2,454.8 L762.5,454.7 L763.8,453.7 L765.0,454.2 L766.2,453.5 L767.5,454.1 L768.8,453.5 L770.0,453.6 L771.2,453.6 L772.5,454.9 L773.8,454.3 L775.0,454.9 L776.2,455.7 L777.5,455.2 L778.8,455.1 L780.0,454.8 L781.2,454.8 L782.5,454.1 L783.8,455.1 L785.0,454.4 L786.2,455.3 L787.5,454.7 L788.8,455.6 L790.0,454.6 L791.2,455.9 L792.5,454.5 L793.8,455.3 L795.0,455.3 L796.2,456.2 L797.5,455.7 L798.8,456.2 L800.0,456.0 L801.2,455.1 L802.5,454.6 L803.8,454.5 L805.0,455.2 L806.2,455.6 L807.5,455.0 L808.8,454.4 L810.0,454.6 L811.2,454.6 L812.5,453.7 L813.8,454.2 L815.0,453.5 L816.2,454.2 L817.5,455.9" fill="none" stroke="#5b45c9" stroke-width="2.5" stroke-linejoin="round" stroke-linecap="round"/>
 <path d="M517.3,202.8 L526,202.8 L521.65,211 Z" fill="#111"/>
 <path d="M205.8,471.5 L214.2,471.5 L210,463 Z" fill="#fff"/>
 <!-- bottom legend fragments -->
 <path d="M213.6,499 V516 M205.8,508.3 L213.6,516.2 L221.6,508.3" fill="none" stroke="#111" stroke-width="2"/>
 <rect x="443.5" y="508.5" width="15.5" height="6" fill="#a99de4"/>
 <rect x="528.5" y="508.5" width="16" height="6" fill="#9bd7a0"/>
</svg>
<div class="cash">Cash<br>budget</div>
<div class="amt">€2,000</div>
<div class="tabs"></div>
<div class="pill"></div>
<div class="t" style="left:377.2px;color:#fff;font-weight:bold;font-size:11.1px;">2 Years</div>
<div class="t" style="left:458px;">1 Year</div>
<div class="t" style="left:525.6px;letter-spacing:0.42px;">3 Months</div>
<div class="t" style="left:612px;">Today</div>
<div class="title">Backtesting: provide liquidity</div>
<div class="copy">© coinexams.com</div>
<div class="peak">€8,071</div>
<div class="low">€246</div>
<div class="lg" style="left:259px;">Average ↗ 04/01/2023</div>
<div class="lg" style="left:464px;">HOLD</div>
<div class="lg" style="left:549.5px;font-size:16.3px;top:507.4px;">TRADE: +24.4% ~€1,907</div>
</div>
</body></html>
